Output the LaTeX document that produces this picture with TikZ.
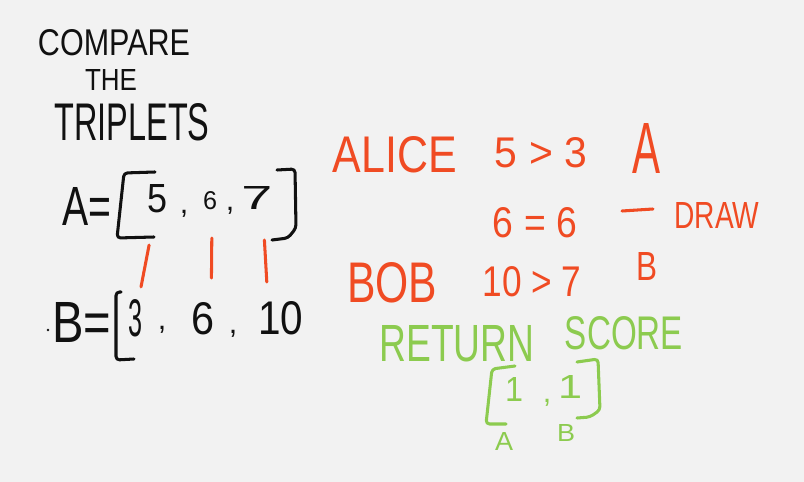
\documentclass[tikz,border=0pt]{standalone}
\usepackage{fontspec}
\setmainfont{Liberation Sans}
\usepackage{graphicx}
\usetikzlibrary{calc}
\newlength\pxl
\setlength\pxl{0.03cm}
\newcommand\fitt[3]{\resizebox{#1\pxl}{#2\pxl}{#3}}
\definecolor{bgc}{HTML}{F2F2F2}
\definecolor{inkk}{HTML}{111111}
\definecolor{inkr}{HTML}{F04B23}
\definecolor{inkg}{HTML}{8CCB4F}
\begin{document}
\begin{tikzpicture}[x=0.03cm,y=-0.03cm,
  every node/.style={inner sep=0pt,outer sep=0pt},
  blk/.style={text=inkk},
  red/.style={text=inkr},
  grn/.style={text=inkg},
  comma/.style={font=\fontsize{26}{26}\selectfont},
  stroke/.style={line width=2.6pt,line cap=round,line join=round,rounded corners=3pt},
  redline/.style={stroke,draw=inkr},
  blkline/.style={stroke,draw=inkk},
  grnline/.style={stroke,draw=inkg}]
\useasboundingbox (0,0) rectangle (804,482);
\fill[bgc] (0,0) rectangle (804,482);

% title
\node[blk] (compare) at (114,43) {\fitt{152}{26}{COMPARE}};
\node[blk] (the) at (111,80) {\fitt{52}{21}{THE}};
\node[blk] (triplets) at (132,122) {\fitt{155}{37}{TRIPLETS}};

% A row
\node[blk] (alab) at (87,206) {\fitt{49}{38}{A=}};
\draw[blkline] (155,172) -- (124,173) -- (117,238) -- (154,237);
\node[blk] (a5) at (158,199) {\fitt{20}{28}{5}};
\node[blk,comma] (ac1) at (184,214) {,};
\node[blk] (a6) at (210,201) {\fitt{14}{18}{6}};
\node[blk,comma] (ac2) at (230,211) {,};
\node[blk] (a7) at (257,198) {\fitt{31}{23}{7}};
\draw[blkline] (277,170) -- (295,169) -- (296,228) -- (288,238) -- (272,240);

% B row
\fill[inkk] (48,330) circle (1.3);
\node[blk] (blab) at (82,322) {\fitt{59}{40}{B=}};
\draw[blkline] (121,292) -- (116,292) -- (116,360) -- (134,359);
\node[blk] (b3) at (135,318) {\fitt{14}{37}{3}};
\node[blk,comma] (bc1) at (162,330) {,};
\node[blk] (b6) at (203,319) {\fitt{23}{32}{6}};
\node[blk,comma] (bc2) at (233,334) {,};
\node[blk] (b10) at (281,318) {\fitt{45}{33}{10}};

% red connectors
\draw[redline] ($(a5)!0.387!(b3)$) -- ($(a5)!0.739!(b3)$);
\draw[redline] ($(a6)!0.314!(b6)+(4,0)$) -- ($(a6)!0.653!(b6)+(6,0)$);
\draw[redline] ($(a7)!0.35!(b10)+(-1,0)$) -- ($(a7)!0.70!(b10)+(-7,0)$);

% red comparisons
\node[red] (alice) at (395,155) {\fitt{124}{36}{ALICE}};
\node[red] (c1) at (541,153) {\fitt{92}{30}{5 > 3}};
\node[red] (wa) at (646,148) {\fitt{28}{50}{A}};
\node[red] (c2) at (535,223) {\fitt{84}{30}{6 = 6}};
\draw[redline] (622,211) -- (653,209);
\node[red] (drawt) at (717,215) {\fitt{85}{26}{DRAW}};
\node[red] (bob) at (392,283) {\fitt{90}{40}{BOB}};
\node[red] (c3) at (532,282) {\fitt{99}{30}{10 > 7}};
\node[red] (wb) at (647,266) {\fitt{21}{28}{B}};

% green result
\node[grn] (ret) at (457,344) {\fitt{155}{36}{RETURN}};
\node[grn] (score) at (624,333) {\fitt{118}{33}{SCORE}};
\draw[grnline] (515,366) -- (492,369) -- (486,424) -- (506,424);
\node[grn] (s1) at (514,389) {\fitt{18}{24}{1}};
\node[grn,comma] (sc) at (547,403) {,};
\node[grn] (s2) at (570,387) {\fitt{24}{23}{1}};
\draw[grnline] (577,362) -- (598,359) -- (600,410) -- (590,417) -- (577,418);
\node[grn] (la) at (504,441) {\fitt{18}{18}{A}};
\node[grn] (lb) at (566,433) {\fitt{18}{17}{B}};
\end{tikzpicture}
\end{document}
